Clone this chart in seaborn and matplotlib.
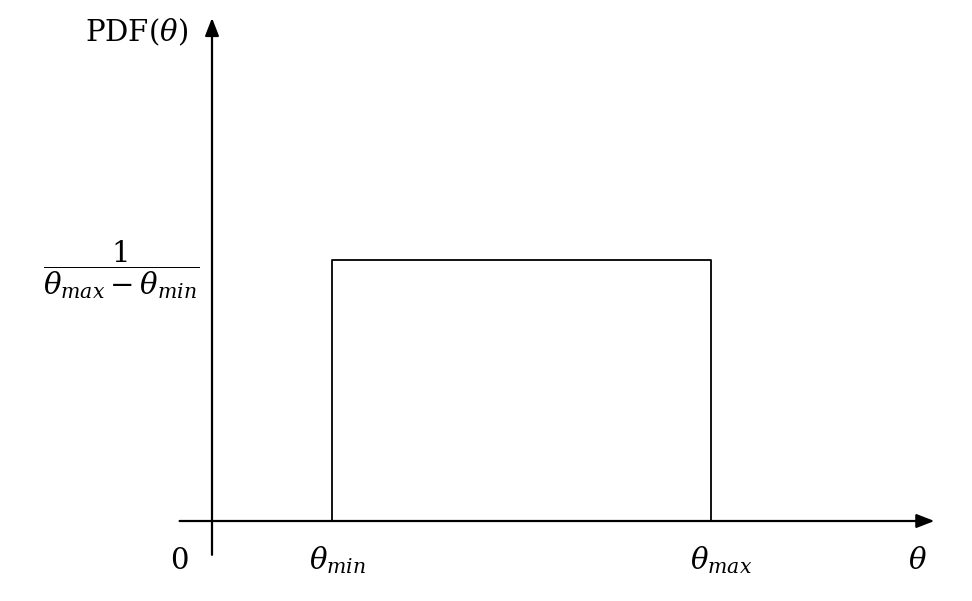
import numpy as np
import pandas as pd
import seaborn as sns
import matplotlib
matplotlib.use("Agg")
import matplotlib.pyplot as plt

# Uniform distribution values
theta_min = 1.0
theta_max = 4.16
pdf_height = 1 / (theta_max - theta_min)

rect_theta = [theta_min, theta_min, theta_max, theta_max]
rect_pdf = [0, pdf_height, pdf_height, 0]

x_tick_labels = [r"$0$", r"$\theta_{min}$", r"$\theta_{max}$"]

sns.set_theme(style="white")
plt.rcParams["mathtext.fontset"] = "dejavuserif"
plt.rcParams["font.family"] = ["DejaVu Serif"]
plt.rcParams["text.color"] = "black"

fig = plt.figure(figsize=(9.72, 6.01), dpi=100)
ax = fig.add_axes([0, 0, 1, 1])

df = pd.DataFrame({"theta": rect_theta, "pdf": rect_pdf})
sns.lineplot(data=df, x="theta", y="pdf", sort=False, estimator=None,
             color="black", lw=1.3, ax=ax)

# pixel mapping: x = 212 + 120*theta, y = 521 - 824.7*pdf
ax.set_xlim(-212 / 120, (972 - 212) / 120)
ax.set_ylim(-80 / 824.7, 521 / 824.7)
ax.set_axis_off()

# axes with arrows
arrow = dict(arrowstyle="-|>,head_length=0.9,head_width=0.35", color="black", lw=1.6,
             shrinkA=0, shrinkB=0)
ax.annotate("", xy=(6.02, 0), xytext=(-0.27, 0), arrowprops=arrow)
ax.annotate("", xy=(0, 0.61), xytext=(0, -0.041), arrowprops=arrow)

fs = 21
label_y = -0.048
ax.text(-0.27, label_y, x_tick_labels[0], fontsize=fs, ha="center", va="center")
ax.text(theta_min + 0.05, label_y, x_tick_labels[1], fontsize=fs, ha="center", va="center")
ax.text(theta_max + 0.08, label_y, x_tick_labels[2], fontsize=fs, ha="center", va="center")
ax.text(5.88, label_y, r"$\theta$", fontsize=fs, ha="center", va="center")

ax.text(-0.2, 0.592, r"$\mathrm{PDF}(\theta)$", fontsize=fs, ha="right", va="center")
ax.text(-0.76, pdf_height - 0.012, r"$\dfrac{1}{\theta_{max}-\theta_{min}}$",
        fontsize=fs, ha="center", va="center")

fig.savefig("out.png", dpi=100, facecolor="white")
